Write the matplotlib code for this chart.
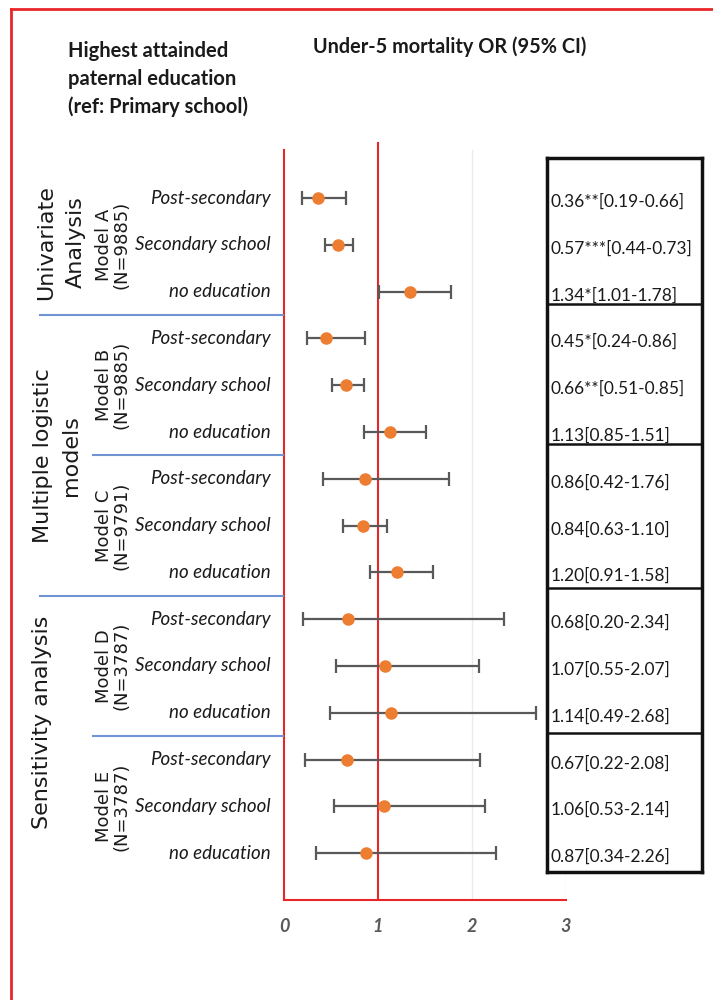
import matplotlib
matplotlib.use('Agg')
import numpy as np
from matplotlib import pyplot as plt
from matplotlib import font_manager
import matplotlib.transforms as mtransforms
from matplotlib.lines import Line2D

# --- data ---
levels = ['Post-secondary', 'Secondary school', 'no education']
models = ['Model A\n(N=9885)', 'Model B\n(N=9885)', 'Model C\n(N=9791)',
          'Model D\n(N=3787)', 'Model E\n(N=3787)']
odds = [0.36, 0.57, 1.34, 0.45, 0.66, 1.13, 0.86, 0.84, 1.20,
        0.68, 1.07, 1.14, 0.67, 1.06, 0.87]
ci_lo = [0.19, 0.44, 1.01, 0.24, 0.51, 0.85, 0.42, 0.63, 0.91,
         0.20, 0.55, 0.49, 0.22, 0.53, 0.34]
ci_hi = [0.66, 0.73, 1.78, 0.86, 0.85, 1.51, 1.76, 1.10, 1.58,
         2.34, 2.07, 2.68, 2.08, 2.14, 2.26]
stars = ['**', '***', '*', '*', '**', '', '', '', '',
         '', '', '', '', '', '']
xticks = [0, 1, 2, 3]

names = {f.name for f in font_manager.fontManager.ttflist}
narrow = 'Liberation Sans Narrow' if 'Liberation Sans Narrow' in names else 'Lato'

W, H = 713, 1000
fx = lambda px: px / W
fy = lambda py: 1 - py / H

fig = plt.figure(figsize=(W / 100, H / 100), dpi=100)

# main forest plot axes
row0, row_step = 198, 46.8
ax = fig.add_axes([fx(284), fy(900), fx(566) - fx(284), fy(150) - fy(900)])
n = len(odds)
y = np.arange(n)
ax.set_ylim((900 - row0) / row_step, (150 - row0) / row_step)
ax.set_xlim(0, 3)

odds_a = np.array(odds)
err = np.array([odds_a - np.array(ci_lo), np.array(ci_hi) - odds_a])
ax.errorbar(odds_a, y, xerr=err, fmt='o', color='#ED7D31', markersize=8,
            ecolor='#595959', elinewidth=1.6, capsize=5, capthick=1.6, zorder=3)

for g in [2, 3]:
    ax.axvline(g, color='#EBEBEB', lw=1, zorder=0)
ax.plot([1, 1], [ax.get_ylim()[0], (143 - row0) / row_step], color='#E8262A',
        lw=1.5, clip_on=False, zorder=2)

for s in ['top', 'right']:
    ax.spines[s].set_visible(False)
for s in ['left', 'bottom']:
    ax.spines[s].set_color('#E8262A')
    ax.spines[s].set_linewidth(1.5)
ax.set_yticks([])
ax.set_xticks(xticks)
ax.set_xticklabels([str(t) for t in xticks], fontfamily=narrow, fontstyle='italic',
                   fontweight='bold', fontsize=13, color='#595959')
ax.tick_params(axis='x', length=0, pad=13)

trans = mtransforms.blended_transform_factory(fig.transFigure, ax.transData)

# row labels
for i in range(n):
    fig.text(fx(271), i, levels[i % 3], transform=trans, ha='right', va='center',
             fontsize=13.5, fontstyle='italic', family=narrow, color='#1a1a1a')

# model labels
for k, m in enumerate(models):
    fig.text(fx(113), 3 * k + 1, m, transform=trans, rotation=90, ha='center',
             va='center', multialignment='center', fontsize=13,
             linespacing=1.0, color='#1a1a1a')

# group labels
groups = ['Univariate\nAnalysis', 'Multiple logistic\nmodels', 'Sensitivity analysis']
group_pos = [(61, 0.95), (57, 5.5), (42, 11.2)]
for lab, (px, ry) in zip(groups, group_pos):
    fig.text(fx(px), ry, lab, transform=trans, rotation=90, ha='center', va='center',
             multialignment='center', fontsize=16, linespacing=1.55, color='#1a1a1a')

# blue separators
for ry, x0 in [(2.5, 40), (5.5, 93), (8.5, 40), (11.5, 93)]:
    fig.add_artist(Line2D([fx(x0), fx(283)], [ry, ry], transform=trans,
                          color='#6F93D3', lw=1.5))

# table of estimates
tax = fig.add_axes([fx(547), fy(872), fx(702) - fx(547), fy(158) - fy(872)])
tax.set_xlim(0, 1)
tax.set_ylim((872 - row0) / row_step, (158 - row0) / row_step)
tax.set_xticks([])
tax.set_yticks([])
for s in tax.spines.values():
    s.set_linewidth(2.5)
    s.set_color('#111111')
for py in [304, 444, 588, 733]:
    tax.axhline((py - row0) / row_step, color='#111111', lw=1.8)
for i in range(n):
    tax.text(0.025, i + 0.08, f'{odds[i]:.2f}{stars[i]}[{ci_lo[i]:.2f}-{ci_hi[i]:.2f}]',
             ha='left', va='center', fontsize=12.5, family=narrow, color='#1a1a1a')

# headers
fig.text(fx(68), fy(79), 'Highest attainded\npaternal education\n(ref: Primary school)',
         ha='left', va='center', fontsize=14.5, family=narrow, fontweight='bold',
         linespacing=1.45, color='#1a1a1a')
fig.text(fx(313), fy(47), 'Under-5 mortality OR (95% CI)', ha='left', va='center',
         fontsize=14.3, family=narrow, fontweight='bold', color='#1a1a1a')

# outer red frame (top and left only visible)
fig.add_artist(Line2D([fx(11), 1.0], [fy(9), fy(9)], color='#E8262A', lw=2))
fig.add_artist(Line2D([fx(11), fx(11)], [fy(9), 0.0], color='#E8262A', lw=2))

fig.savefig('out.png', dpi=100)
